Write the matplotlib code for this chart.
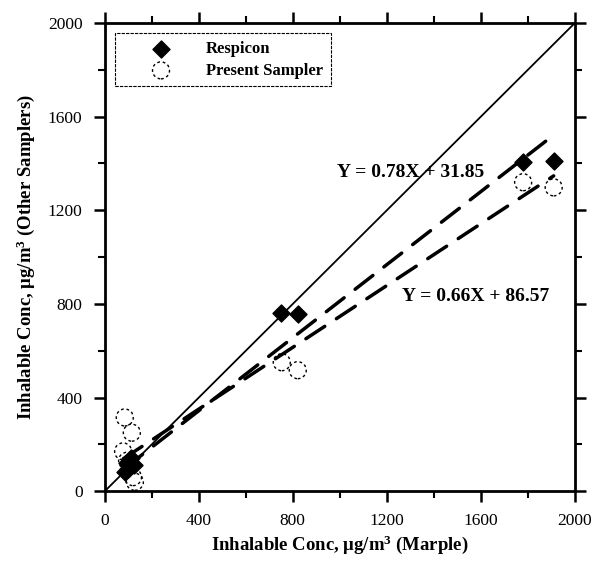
import matplotlib
matplotlib.use("Agg")
import matplotlib.pyplot as plt
import numpy as np

plt.rcParams['font.family'] = ['Liberation Serif', 'DejaVu Serif']
plt.rcParams['mathtext.fontset'] = 'custom'
plt.rcParams['mathtext.rm'] = 'Liberation Serif:bold'
plt.rcParams['mathtext.bf'] = 'Liberation Serif:bold'
plt.rcParams['mathtext.it'] = 'Liberation Serif:bold'

# Inhalable concentrations (ug/m3): Marple reference vs. other samplers
respicon_x = [85, 95, 110, 125, 100, 750, 820, 1780, 1910]
respicon_y = [80, 120, 140, 110, 95, 760, 755, 1405, 1410]
present_x = [85, 115, 78, 95, 120, 128, 753, 821, 1780, 1910]
present_y = [315, 250, 170, 130, 60, 40, 551, 517, 1320, 1298]

# Linear fits reported for each sampler
fit_respicon = (0.78, 31.85)
fit_present = (0.66, 86.57)

x_ticks = [0, 400, 800, 1200, 1600, 2000]
y_ticks = [0, 400, 800, 1200, 1600, 2000]

fig = plt.figure(figsize=(5.92, 5.62), dpi=100)
ax = fig.add_axes([0.177, 0.126, 0.794, 0.833])

# 1:1 line
ax.plot([0, 2000], [0, 2000], color='black', lw=1.3, zorder=2)

# regression lines over data range
for (m, b), xs in ((fit_respicon, respicon_x), (fit_present, present_x)):
    xl = np.array([min(xs), max(xs)])
    ax.plot(xl, m * xl + b, color='black', lw=2.5, dashes=(6.5, 4),
            solid_capstyle='butt', dash_capstyle='round', zorder=3)

ax.scatter(respicon_x, respicon_y, marker='D', s=75, color='black',
           zorder=4, label='Respicon')
ax.scatter(present_x, present_y, marker='o', s=150, facecolors='none',
           edgecolors='black', linewidths=1.0, linestyles=(0, (2, 2)),
           zorder=4, label='Present Sampler')

ax.text(987, 1363, 'Y = 0.78X + 31.85', fontsize=14, fontweight='bold',
        va='center', ha='left')
ax.text(1264, 833, 'Y = 0.66X + 86.57', fontsize=14, fontweight='bold',
        va='center', ha='left')

ax.set_xlim(0, 2000)
ax.set_ylim(0, 2000)
ax.set_xticks(x_ticks)
ax.set_yticks(y_ticks)
ax.set_xticks(np.arange(200, 2000, 400), minor=True)
ax.set_yticks(np.arange(200, 2000, 400), minor=True)
ax.tick_params(which='both', direction='out', top=True, right=True,
               labeltop=False, labelright=False, labelsize=12.5)
ax.tick_params(which='major', length=8, width=1.8)
ax.tick_params(which='minor', length=5, width=1.5)
ax.tick_params(axis='x', which='major', pad=8)
ax.tick_params(axis='y', which='major', pad=8)
for sp in ax.spines.values():
    sp.set_linewidth(2)

ax.set_xlabel('Inhalable Conc, $\\mu$g/m$^{3}$ (Marple)', fontsize=13.5,
              fontweight='bold', labelpad=3)
ax.set_ylabel('Inhalable Conc, $\\mu$g/m$^{3}$ (Other Samplers)', fontsize=13.5,
              fontweight='bold', labelpad=8)

leg = ax.legend(loc='upper left', bbox_to_anchor=(0.015, 0.985), fancybox=False,
                edgecolor='black', framealpha=1, prop={'weight': 'bold', 'size': 12},
                borderpad=0.45, handletextpad=0.4, labelspacing=0.35,
                handlelength=4.6, borderaxespad=0.2)
leg.get_frame().set_linewidth(0.8)
leg.get_frame().set_linestyle((0, (3, 1)))

fig.savefig('out.png', dpi=100)
